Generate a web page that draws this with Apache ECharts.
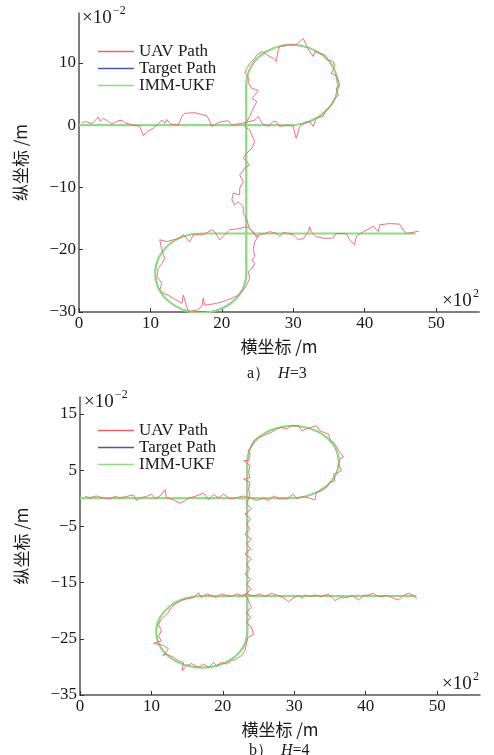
<!DOCTYPE html>
<html>
<head>
<meta charset="utf-8">
<script src="https://cdn.jsdelivr.net/npm/echarts@6/dist/echarts.min.js"></script>
<style>
html, body { margin: 0; padding: 0; background: #fff; }
#main { width: 494px; height: 755px; }
</style>
</head>
<body>
<div id="main"></div>
<script>
// tick labels
var xTicks  = [0, 10, 20, 30, 40, 50];
var yTicksA = [-30, -20, -10, 0, 10];
var yTicksB = [-35, -25, -15, -5, 5, 15];

// target path (same in both panels)
var targetPath = [[0,0],[29.8,0],[32.25,0.54],[34.33,1.92],[35.71,4.0],[36.2,6.45],[35.71,8.9],[34.33,10.98],[32.25,12.36],[29.8,12.85],[27.35,12.36],[25.27,10.98],[23.89,8.9],[23.4,6.45],[23.4,-23.75],[22.92,-26.18],[21.54,-28.24],[19.48,-29.62],[17.05,-30.1],[14.62,-29.62],[12.56,-28.24],[11.18,-26.18],[10.7,-23.75],[11.18,-21.32],[12.56,-19.26],[14.62,-17.88],[17.05,-17.4],[47,-17.4]];

// IMM-UKF estimate
var immPath = [[0,0],[29.7,0],[32.2,0.6],[34.3,2.0],[35.75,4.05],[36.25,6.5],[35.75,8.95],[34.35,11.0],[32.25,12.4],[29.8,12.9],[27.3,12.4],[25.2,11.0],[23.85,8.9],[23.42,6.4],[23.45,-23.7],[23.0,-26.2],[21.6,-28.3],[19.5,-29.7],[17.0,-30.15],[14.55,-29.65],[12.5,-28.25],[11.1,-26.15],[10.65,-23.7],[11.15,-21.3],[12.55,-19.2],[14.6,-17.85],[17.1,-17.38],[47.1,-17.38]];

// UAV path, H=3
var uavPathA = [[0.4,0.3],[0.9,0.6],[1.8,0.2],[2.7,1.3],[3.0,0.6],[3.4,1.1],[4.1,0.6],[4.6,0.2],[5.5,0.7],[6.1,0.8],[6.4,0.4],[7.2,0.1],[8.5,-0.2],[9.0,-1.7],[9.6,-1.0],[10.4,-0.5],[11.0,0.1],[11.6,0.8],[12.0,0.3],[12.3,0.9],[12.8,0.2],[13.9,0],[14.4,1.4],[14.8,1.9],[16.2,2.0],[17.9,1.5],[18.3,0.6],[18.6,-0.2],[19.5,0.4],[20.2,0.6],[20.9,0.7],[21.4,0],[22.8,0.3],[23.6,0.5],
  [24.6,0.8],[25.1,1.4],[25.6,0.3],[26.5,-0.2],[27.2,0.6],[27.6,0.6],[28.1,-0.2],[29.3,0],[30.0,-0.2],[30.2,-1.3],[30.4,-2.1],[30.9,-0.2],[31.6,0.3],[32.3,0.6],[32.8,-0.2],[33.2,1.1],[34.2,1.4],[34.4,2.2],[34.9,2.7],[35.3,3.2],[35.8,4.3],[36.3,4.8],[36.0,5.9],[36.5,6.2],[36.3,7.3],[35.8,8.1],[35.3,8.3],[35.8,9.4],[35.6,10.2],[34.9,10.5],[34.4,11.3],[33.0,11.8],[32.8,11.0],[32.3,11.8],[31.8,12.9],[31.4,13.9],[30.9,13.4],[30.4,12.9],[29.0,12.9],[28.1,12.6],[27.9,12.1],[27.6,10.2],[27.2,10.7],[26.3,11.3],[25.6,11.8],[24.9,11.3],[24.6,10.7],[23.9,9.9],[23.5,9.1],[23.2,8.3],[23.7,7.8],[23.7,6.7],[24.2,5.9],[25.1,5.6],[24.6,4.8],[24.2,4.3],[24.9,3.8],[24.4,2.7],[23.9,1.4],[23.5,0.6],[23.2,-0.2],[23.9,-0.8],[24.4,-2.1],[24.6,-2.6],[24.2,-3.7],[23.5,-4.5],[23.0,-5.3],[23.9,-6.4],[23.2,-6.9],[22.5,-8.0],[23.0,-9.1],[22.5,-10.1],[22.5,-11.2],[21.6,-10.9],[21.4,-12.0],[21.8,-12.8],[22.3,-12.3],[23.0,-13.1],[23.0,-14.2],[23.5,-15.2],[23.7,-16.0],[23.9,-16.6],[24.6,-17.6],[25.1,-17.9],[24.6,-18.7],[24.4,-19.8],[24.6,-21.1],[24.2,-21.6],[24.6,-22.2],[24.2,-23.0],[23.7,-23.5],[23.9,-24.6],[23.5,-25.6],[23.0,-26.5],[22.3,-27.3],[21.4,-27.8],[20.2,-28.3],[19.3,-28.6],[18.3,-28.8],[17.6,-28.9],[17.4,-27.8],[17.2,-29.1],[16.5,-29.7],[15.3,-29.9],[14.6,-27.3],[14.4,-28.6],[13.2,-27.8],[12.5,-27.3],[11.8,-27.0],[11.3,-26.5],[11.6,-25.4],[10.9,-24.3],[11.1,-23.0],[11.6,-22.2],[12.0,-21.4],[11.6,-20.0],[11.3,-18.4],[12.3,-18.7],[13.2,-18.4],[13.9,-18.2],[14.6,-17.6],[15.5,-18.7],[16.0,-17.6],[17.4,-17.6],[18.6,-16.8],[19.0,-17.1],[19.7,-18.4],[20.4,-17.6],[21.1,-16.8],[22.5,-16.6],[23.5,-16.3],[24.4,-17.1],[24.8,-17.9],[25.3,-17.6],[26.0,-17.4],[26.7,-17.1],[27.7,-17.4],[28.1,-17.9],[28.6,-17.2],[30.0,-17.6],[30.7,-18.4],[31.4,-18.2],[32.1,-17.1],[32.3,-16.3],[32.5,-17.1],[33.2,-17.9],[34.4,-18.2],[35.6,-18.1],[36.0,-17.4],[37.4,-17.4],[37.9,-18.4],[38.6,-19.2],[38.8,-17.9],[39.8,-17.1],[40.7,-16.6],[41.2,-16.2],[41.9,-17.1],[42.1,-16.0],[43.5,-15.8],[44.9,-15.9],[45.4,-16.8],[45.8,-17.4],[46.8,-17.2],[47.6,-17.0]];

// UAV path, H=4
var uavPathB = [[0.7,0.3],[1.4,0.1],[2.3,0.4],[3.3,0],[4.2,-0.1],[4.9,0.3],[5.6,0.1],[6.5,0.3],[7.5,0.6],[7.9,-0.4],[8.4,0.1],[9.3,0.3],[10.0,0.7],[10.5,-0.1],[11.2,0.4],[11.9,1.5],[12.1,0.1],[13.1,-0.3],[14.0,-0.9],[14.7,-0.4],[15.4,0.1],[16.3,0.4],[17.3,0.9],[18.0,-0.3],[18.7,0.7],[19.4,0],[20.1,0.7],[21.0,-0.1],[21.9,0.1],[22.9,0.4],[23.6,0.1],[24.0,0],[24.7,-0.4],[25.7,0],[26.4,-0.4],[27.1,0.4],[27.8,-0.1],[28.9,-0.1],[29.9,0.7],[30.3,0],[31.3,0.3],[32.2,0],[32.9,-0.3],[33.1,1.0],[33.8,1.3],[34.5,1.9],[35.0,2.8],[35.7,3.1],[35.5,4.3],[36.2,4.6],[36.6,4.9],[36.2,6.1],[36.4,7.0],[36.9,7.3],[36.2,8.5],[35.7,9.6],[35.0,10.5],[34.8,11.4],[34.1,11.7],[33.6,12.0],[33.1,12.9],[32.4,12.6],[31.7,12.3],[31.0,12.0],[30.6,12.9],[29.6,12.9],[28.9,12.3],[28.2,12.6],[27.5,12.3],[26.8,11.7],[26.1,11.4],[25.7,11.1],[25.0,10.8],[24.3,10.2],[24.0,9.3],[23.6,8.5],[23.8,7.6],[23.6,6.7],[22.9,6.7],[23.8,5.8],[23.6,4.6],[23.8,3.7],[22.9,3.4],[23.8,2.8],[23.6,1.6],[23.8,0.7],[23.6,-0.1],[23.3,-1.0],[24.0,-1.9],[23.1,-2.8],[23.9,-3.7],[23.3,-4.6],[23.8,-5.5],[23.1,-6.4],[24.0,-7.3],[23.3,-8.1],[23.9,-9.0],[23.1,-9.9],[24.0,-10.8],[23.3,-11.7],[23.8,-12.6],[23.1,-13.5],[23.9,-14.4],[23.3,-15.3],[24.0,-16.2],[23.1,-17.1],[23.6,-18.2],[24.0,-19.4],[23.3,-20.3],[23.9,-21.2],[23.3,-22.1],[24.0,-23.0],[24.3,-24.2],[23.5,-24.8],[23.3,-25.9],[23.1,-27.1],[22.6,-28.0],[21.9,-28.6],[21.2,-28.9],[20.5,-29.5],[19.8,-29.2],[19.1,-29.8],[18.7,-29.2],[18.0,-30.1],[17.3,-29.5],[16.6,-30.1],[15.6,-29.4],[14.9,-29.8],[14.3,-30.7],[14.5,-29.2],[13.8,-28.9],[13.1,-28.3],[12.1,-27.7],[11.6,-28.0],[12.4,-26.8],[11.7,-26.2],[10.3,-25.8],[11.4,-25.4],[11.0,-24.5],[11.4,-23.6],[11.0,-22.4],[11.4,-21.5],[11.9,-20.9],[12.4,-20.3],[12.6,-19.7],[13.1,-19.1],[13.5,-18.7],[14.2,-18.2],[14.9,-17.9],[15.9,-17.7],[16.6,-16.8],[17.0,-17.7],[17.7,-17.0],[18.4,-17.3],[19.1,-17.7],[19.8,-17.0],[20.5,-17.3],[21.2,-17.5],[21.9,-17.0],[22.6,-17.3],[23.3,-17.0],[24.0,-17.3],[24.5,-17.3],[25.2,-17.0],[25.9,-17.5],[26.8,-16.9],[27.5,-17.2],[28.5,-17.7],[29.2,-18.4],[29.9,-17.7],[30.6,-17.3],[31.1,-17.8],[31.5,-17.2],[32.2,-17.5],[32.9,-17.2],[33.8,-17.5],[34.8,-17.0],[35.7,-18.2],[36.4,-17.7],[37.4,-17.7],[38.1,-17.3],[39.0,-18.1],[39.7,-17.3],[40.4,-17.2],[41.1,-16.9],[41.5,-17.3],[42.0,-17.5],[43.0,-17.3],[43.9,-17.8],[44.6,-18.1],[45.3,-17.3],[46.0,-16.9],[46.7,-17.3],[47.2,-17.9]];

var SERIF = '"Liberation Serif", "Times New Roman", serif';
var CJK = '"Noto Sans CJK SC", sans-serif';
var INK = '#1a1a1a';

function minus(v) { return String(v).replace('-', '\u2212'); }

function xAxisOf(gi) {
    return {
        type: 'value', gridIndex: gi, min: 0, max: 56,
        axisLine: { onZero: false, lineStyle: { color: '#555', width: 1.5 } },
        axisTick: { inside: true, length: 4, customValues: xTicks, lineStyle: { color: '#333' } },
        axisLabel: { customValues: xTicks, fontFamily: SERIF, fontSize: 17, color: INK, margin: 3 },
        splitLine: { show: false },
        name: '横坐标 /m', nameLocation: 'middle', nameGap: 26,
        nameTextStyle: { fontFamily: CJK, fontSize: 17, color: INK }
    };
}

function yAxisOf(gi, min, ticks) {
    return {
        type: 'value', gridIndex: gi, min: min, max: 18,
        axisLine: { onZero: false, lineStyle: { color: '#555', width: 1.5 } },
        axisTick: { inside: true, length: 4, customValues: ticks, lineStyle: { color: '#333' } },
        axisLabel: { customValues: ticks, fontFamily: SERIF, fontSize: 17, color: INK, margin: 3, formatter: minus },
        splitLine: { show: false },
        name: '纵坐标 /m', nameLocation: 'middle', nameGap: 50, nameRotate: 90,
        nameTextStyle: { fontFamily: CJK, fontSize: 17, color: INK }
    };
}

function seriesOf(gi, uav) {
    return [
        { name: 'UAV Path', type: 'line', xAxisIndex: gi, yAxisIndex: gi, data: uav,
          symbol: 'none', z: 4, itemStyle: { color: '#f0606c' },
          lineStyle: { color: '#f0606c', width: 1, opacity: 0.9 } },
        { name: 'Target Path', type: 'line', xAxisIndex: gi, yAxisIndex: gi, data: targetPath,
          symbol: 'none', smooth: 0.3, z: 2, itemStyle: { color: '#4a5aa8' },
          lineStyle: { color: '#4a5aa8', width: 1 } },
        { name: 'IMM-UKF', type: 'line', xAxisIndex: gi, yAxisIndex: gi, data: immPath,
          symbol: 'none', smooth: 0.3, z: 3, itemStyle: { color: '#8edc82' },
          lineStyle: { color: '#8edc82', width: 2 } }
    ];
}

function legendOf(top) {
    return {
        orient: 'vertical', left: 93, top: top, itemWidth: 36, itemHeight: 1.6, itemGap: 0,
        icon: 'rect',
        data: ['UAV Path', 'Target Path', 'IMM-UKF'],
        textStyle: { fontFamily: SERIF, fontSize: 17, color: INK, lineHeight: 16 }
    };
}

function txt(x, y, s, size) {
    return { type: 'text', left: x, top: y,
             style: { text: s, fontFamily: SERIF, fontSize: size, fill: INK } };
}

var chart = echarts.init(document.getElementById('main'), null, { renderer: 'canvas' });

var italicH = { i: { fontFamily: SERIF, fontSize: 16, fontStyle: 'italic', color: INK } };

var option = {
    animation: false,
    backgroundColor: '#fff',
    grid: [
        { left: 79, top: 13, width: 400, height: 299 },
        { left: 80, top: 397, width: 400, height: 298 }
    ],
    xAxis: [xAxisOf(0), xAxisOf(1)],
    yAxis: [yAxisOf(0, -30, yTicksA), yAxisOf(1, -35, yTicksB)],
    legend: [legendOf(38), legendOf(417)],
    series: seriesOf(0, uavPathA).concat(seriesOf(1, uavPathB)),
    graphic: [
        txt(82, 9, '\u00d710', 19), txt(113, 5, '\u22122', 12),
        txt(442, 292, '\u00d710', 19), txt(473, 288, '2', 12),
        txt(84, 393, '\u00d710', 19), txt(115, 389, '\u22122', 12),
        txt(442, 675, '\u00d710', 19), txt(473, 671, '2', 12),
        { type: 'text', left: 247, top: 366, style: {
            text: 'a\uff09  {i|H}=3', fontFamily: SERIF, fontSize: 16, fill: INK, rich: italicH } },
        { type: 'text', left: 249, top: 743, style: {
            text: 'b\uff09  {i|H}=4', fontFamily: SERIF, fontSize: 16, fill: INK, rich: italicH } }
    ]
};

chart.setOption(option);
</script>
</body>
</html>
